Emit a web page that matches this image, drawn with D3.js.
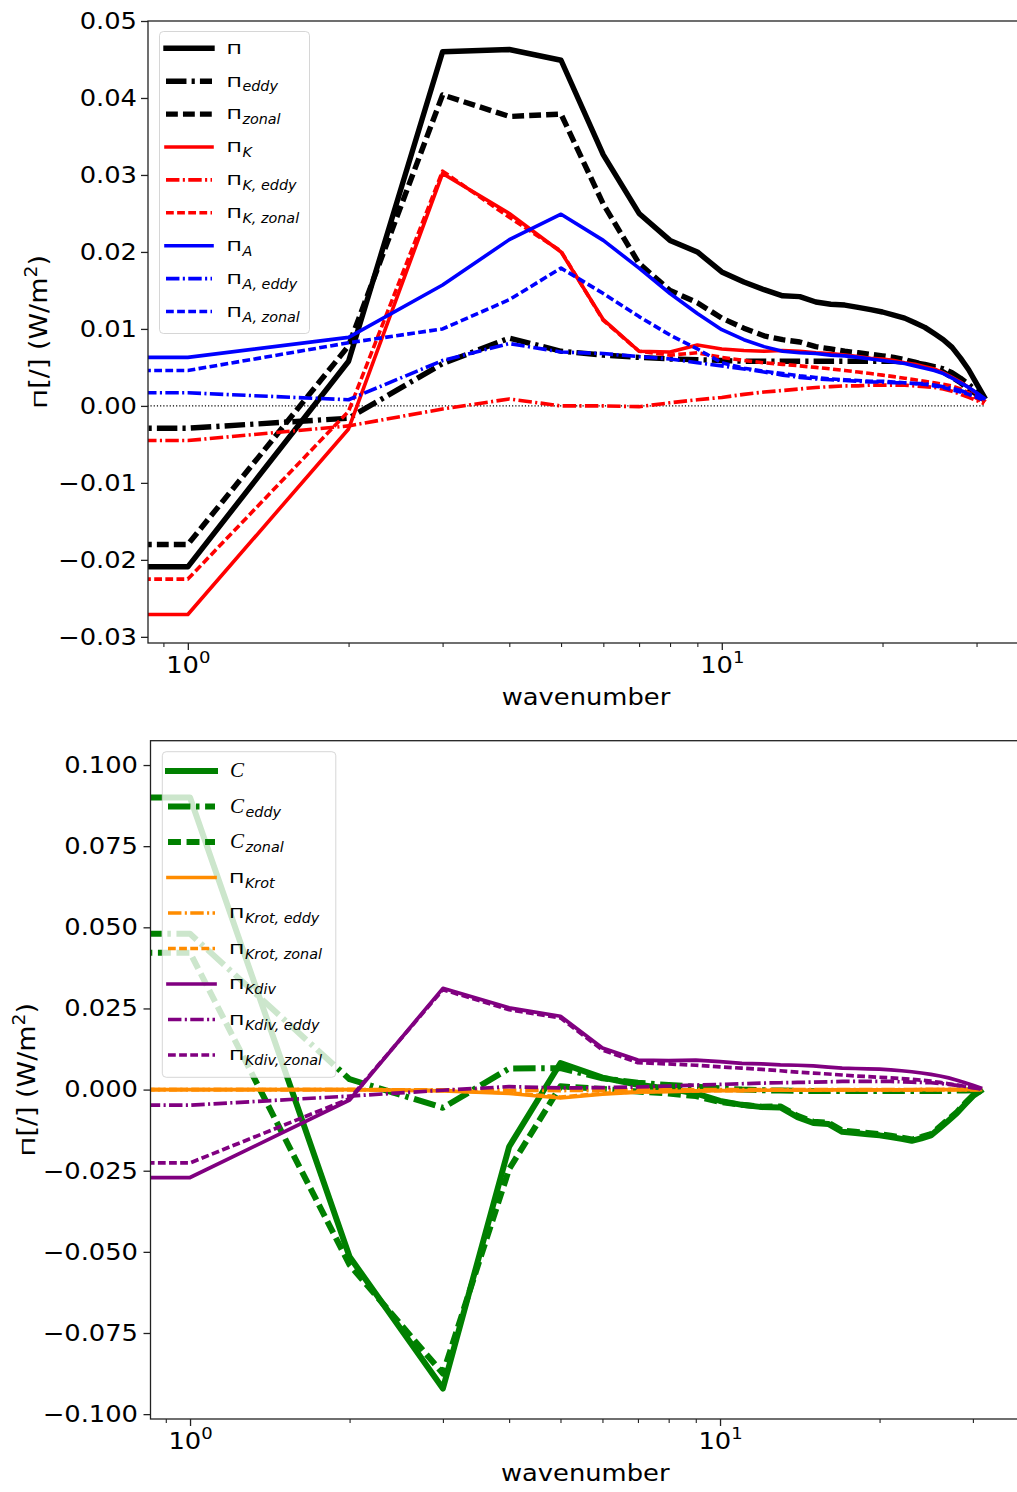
<!DOCTYPE html>
<html>
<head>
<meta charset="utf-8">
<script src="https://cdn.jsdelivr.net/npm/d3@7"></script>
<style>
  html, body { margin: 0; padding: 0; background: #fff; }
  svg { display: block; font-family: "DejaVu Sans", sans-serif; }
</style>
</head>
<body>
<svg id="fig" width="1017" height="1492"></svg>
<script>
// ---------------- data ----------------
const wavenumber = [1, 2, 3, 4, 5, 6, 7, 8, 9, 10, 11, 12, 13, 14, 15, 16,
                    17, 18, 19, 20, 21, 22, 23, 24, 25, 26, 27, 28, 29, 30, 31];

// upper panel: spectral fluxes (W/m^2)
const pi = [-0.0209, 0.0058, 0.0460, 0.0463, 0.0449, 0.0326, 0.0250, 0.0215, 0.0200, 0.0174,
  0.0161, 0.0151, 0.0143, 0.0142, 0.0135, 0.0132, 0.0131, 0.0128, 0.0125, 0.0122,
  0.0118, 0.0114, 0.0108, 0.0102, 0.0094, 0.0086, 0.0076, 0.0062, 0.0047, 0.0029, 0.0012];
const piEddy = [-0.0029, -0.0016, 0.0055, 0.0088, 0.0071, 0.0066, 0.0063, 0.0061, 0.0060, 0.0059,
  0.0058, 0.0058, 0.0058, 0.0058, 0.0058, 0.0058, 0.0058, 0.0058, 0.0058, 0.0058,
  0.0058, 0.0057, 0.0056, 0.0054, 0.0051, 0.0048, 0.0043, 0.0036, 0.0028, 0.0019, 0.0010];
const piZonal = [-0.0180, 0.0078, 0.0404, 0.0376, 0.0379, 0.0262, 0.0185, 0.0150, 0.0134, 0.0114,
  0.0101, 0.0091, 0.0086, 0.0083, 0.0077, 0.0074, 0.0071, 0.0069, 0.0067, 0.0065,
  0.0063, 0.0060, 0.0057, 0.0053, 0.0049, 0.0044, 0.0037, 0.0030, 0.0022, 0.0015, 0.0008];
const piK = [-0.0271, -0.0030, 0.0302, 0.0250, 0.0200, 0.0112, 0.0071, 0.0070, 0.0079, 0.0074,
  0.0072, 0.0071, 0.0072, 0.0071, 0.0069, 0.0068, 0.0066, 0.0064, 0.0062, 0.0061,
  0.0059, 0.0056, 0.0054, 0.0051, 0.0048, 0.0043, 0.0037, 0.0031, 0.0024, 0.0016, 0.0007];
const piKEddy = [-0.0045, -0.0026, -0.0004, 0.0009, 0.0000, 0.0000, -0.0001, 0.0004, 0.0008, 0.0011,
  0.0015, 0.0018, 0.0020, 0.0022, 0.0024, 0.0025, 0.0026, 0.0026, 0.0027, 0.0027,
  0.0027, 0.0027, 0.0026, 0.0025, 0.0024, 0.0022, 0.0019, 0.0015, 0.0011, 0.0007, 0.0003];
const piKZonal = [-0.0225, -0.0007, 0.0305, 0.0245, 0.0201, 0.0111, 0.0071, 0.0066, 0.0069, 0.0063,
  0.0059, 0.0056, 0.0054, 0.0052, 0.0050, 0.0048, 0.0046, 0.0044, 0.0042, 0.0040,
  0.0038, 0.0036, 0.0034, 0.0032, 0.0030, 0.0028, 0.0026, 0.0022, 0.0017, 0.0010, 0.0003];
const piA = [0.0063, 0.0089, 0.0157, 0.0216, 0.0249, 0.0215, 0.0179, 0.0146, 0.0120, 0.0099,
  0.0086, 0.0077, 0.0071, 0.0069, 0.0068, 0.0066, 0.0065, 0.0063, 0.0061, 0.0059,
  0.0057, 0.0055, 0.0052, 0.0049, 0.0046, 0.0042, 0.0036, 0.0030, 0.0024, 0.0017, 0.0010];
const piAEddy = [0.0017, 0.0008, 0.0059, 0.0081, 0.0070, 0.0068, 0.0064, 0.0061, 0.0056, 0.0052,
  0.0048, 0.0044, 0.0040, 0.0037, 0.0035, 0.0034, 0.0033, 0.0032, 0.0031, 0.0031,
  0.0030, 0.0030, 0.0029, 0.0029, 0.0027, 0.0025, 0.0023, 0.0020, 0.0016, 0.0013, 0.0009];
const piAZonal = [0.0046, 0.0082, 0.0100, 0.0138, 0.0179, 0.0146, 0.0116, 0.0092, 0.0074, 0.0056,
  0.0049, 0.0045, 0.0042, 0.0039, 0.0037, 0.0035, 0.0034, 0.0033, 0.0032, 0.0032,
  0.0031, 0.0030, 0.0029, 0.0028, 0.0026, 0.0024, 0.0021, 0.0018, 0.0015, 0.0011, 0.0007];

// lower panel: conversion and rotational / divergent kinetic energy fluxes (W/m^2)
const conv = [0.0900, -0.0515, -0.0921, -0.0176, 0.0082, 0.0037, 0.0015, 0.0003, -0.0012, -0.0035,
  -0.0047, -0.0054, -0.0055, -0.0085, -0.0103, -0.0106, -0.0130, -0.0134, -0.0138, -0.0141,
  -0.0146, -0.0152, -0.0158, -0.0150, -0.0141, -0.0118, -0.0095, -0.0072, -0.0045, -0.0020, -0.0004];
const convEddy = [0.0480, 0.0032, -0.0056, 0.0065, 0.0066, 0.0035, 0.0021, 0.0014, 0.0009, 0.0004,
  0.0000, -0.0002, -0.0003, -0.0004, -0.0004, -0.0004, -0.0004, -0.0004, -0.0004, -0.0004,
  -0.0004, -0.0004, -0.0004, -0.0004, -0.0004, -0.0004, -0.0004, -0.0003, -0.0003, -0.0002, 0.0000];
const convZonal = [0.0422, -0.0540, -0.0875, -0.0245, 0.0010, 0.0002, -0.0006, -0.0012, -0.0020, -0.0038,
  -0.0047, -0.0053, -0.0052, -0.0081, -0.0099, -0.0102, -0.0126, -0.0130, -0.0134, -0.0137,
  -0.0142, -0.0148, -0.0154, -0.0146, -0.0137, -0.0114, -0.0091, -0.0069, -0.0042, -0.0018, -0.0004];
const piKrot = [0.0000, 0.0000, -0.0004, -0.0012, -0.0026, -0.0014, -0.0008, -0.0006, -0.0004, -0.0003,
  -0.0003, -0.0002, -0.0002, -0.0002, -0.0002, -0.0001, -0.0001, -0.0001, -0.0001, -0.0001,
  -0.0001, -0.0001, -0.0001, 0.0000, 0.0000, 0.0000, 0.0000, 0.0000, 0.0000, 0.0000, 0.0000];
const piKrotEddy = [0.0000, 0.0000, -0.0001, -0.0002, -0.0003, -0.0002, -0.0001, -0.0001, 0.0000, 0.0000,
  0.0000, 0.0000, 0.0000, 0.0000, 0.0000, 0.0000, 0.0000, 0.0000, 0.0000, 0.0000,
  0.0000, 0.0000, 0.0000, 0.0000, 0.0000, 0.0000, 0.0000, 0.0000, 0.0000, 0.0000, 0.0000];
const piKrotZonal = [0.0000, 0.0000, -0.0003, -0.0010, -0.0023, -0.0012, -0.0007, -0.0005, -0.0004, -0.0003,
  -0.0003, -0.0002, -0.0002, -0.0002, -0.0002, -0.0001, -0.0001, -0.0001, -0.0001, -0.0001,
  -0.0001, -0.0001, -0.0001, 0.0000, 0.0000, 0.0000, 0.0000, 0.0000, 0.0000, 0.0000, 0.0000];
const piKdiv = [-0.0271, -0.0032, 0.0312, 0.0252, 0.0226, 0.0128, 0.0091, 0.0089, 0.0091, 0.0086,
  0.0081, 0.0079, 0.0076, 0.0075, 0.0073, 0.0069, 0.0066, 0.0065, 0.0064, 0.0063,
  0.0061, 0.0058, 0.0055, 0.0051, 0.0047, 0.0042, 0.0036, 0.0029, 0.0021, 0.0013, 0.0005];
const piKdivEddy = [-0.0048, -0.0020, -0.0002, 0.0009, 0.0005, 0.0006, 0.0008, 0.0011, 0.0014, 0.0016,
  0.0018, 0.0020, 0.0021, 0.0022, 0.0023, 0.0024, 0.0025, 0.0025, 0.0025, 0.0025,
  0.0025, 0.0024, 0.0023, 0.0022, 0.0021, 0.0019, 0.0016, 0.0013, 0.0010, 0.0006, 0.0002];
const piKdivZonal = [-0.0226, -0.0028, 0.0308, 0.0246, 0.0221, 0.0122, 0.0083, 0.0079, 0.0075, 0.0070,
  0.0066, 0.0062, 0.0058, 0.0054, 0.0051, 0.0048, 0.0045, 0.0042, 0.0040, 0.0038,
  0.0036, 0.0034, 0.0032, 0.0029, 0.0026, 0.0022, 0.0018, 0.0014, 0.0010, 0.0006, 0.0003];

// tick values
const topYTicks = [-0.03, -0.02, -0.01, 0.00, 0.01, 0.02, 0.03, 0.04, 0.05];
const bottomYTicks = [-0.100, -0.075, -0.050, -0.025, 0.000, 0.025, 0.050, 0.075, 0.100];
const xMajorTicks = [1, 10];
const xMinorTicks = [0.9, 2, 3, 4, 5, 6, 7, 8, 9, 20, 30];

// ---------------- styling ----------------
const TICK_FS = 23;        // tick labels and x title
const TICK_SX = 1.12;      // horizontal widening of tick labels / x title
const YLAB_FS = 24.5;      // y title
const YLAB_SX = 1.1;
const LEG_FS = 20.5;       // legend symbols
const LEG_SUB = LEG_FS * 0.7;
const PI_SQUASH = 0.72;    // vertical squash of the capital Pi glyph
const svg = d3.select('#fig');

function widen(sel, sx) {
  sel.each(function () {
    const L = this.getComputedTextLength();
    this.setAttribute('textLength', (L * sx).toFixed(2));
    this.setAttribute('lengthAdjust', 'spacingAndGlyphs');
  });
}

function dashArray(type, u) {
  if (type === 'dashed') return [3.7 * u, 1.6 * u].join(',');
  if (type === 'dashdot') return [6.4 * u, 1.6 * u, 1 * u, 1.6 * u].join(',');
  return null;
}

function styleLine(sel, s) {
  sel.attr('fill', 'none')
    .attr('stroke', s.color)
    .attr('stroke-width', s.width)
    .attr('stroke-linejoin', 'round')
    .attr('stroke-linecap', s.dash === 'solid' ? 'square' : 'butt')
    .attr('stroke-dasharray', dashArray(s.dash, s.unit));
}

// symbol (Π or calligraphic C) followed by an italic subscript
function mathLabel(parent, x, baseline, sym, sub) {
  const g = parent.append('g').attr('transform', `translate(${x},${baseline})`);
  let w;
  if (sym === 'Π') {
    const t = g.append('text').attr('font-size', LEG_FS)
      .attr('transform', `scale(1,${PI_SQUASH})`).attr('fill', '#000').text('Π');
    w = t.node().getComputedTextLength();
  } else {
    const t = g.append('text').attr('x', 1).attr('y', 1).attr('font-size', 21)
      .attr('font-family', '"Liberation Serif", "DejaVu Serif", serif').attr('font-style', 'italic')
      .attr('fill', '#000').text('C');
    w = t.node().getComputedTextLength() + 2;
  }
  if (sub) {
    g.append('text').attr('x', w + 0.5).attr('y', LEG_FS * 0.23)
      .attr('font-size', LEG_SUB).attr('font-style', 'italic').attr('fill', '#000').text(sub);
  }
  return g;
}

const X_DOMAIN = [Math.pow(10, -0.0746), Math.pow(10, 1.566)];

function drawPanel(cfg) {
  const x = d3.scaleLog().domain(X_DOMAIN).range([cfg.left, cfg.right]);
  const y = d3.scaleLinear().domain(cfg.yDomain).range([cfg.bottom, cfg.top]);
  const root = svg.append('g');

  const clipId = cfg.id + '-clip';
  root.append('clipPath').attr('id', clipId).append('rect')
    .attr('x', cfg.left).attr('y', cfg.top)
    .attr('width', cfg.right - cfg.left).attr('height', cfg.bottom - cfg.top);
  const plot = root.append('g').attr('clip-path', `url(#${clipId})`);

  const line = d3.line().x(d => x(d[0])).y(d => y(d[1]));
  // the k = 0 entry sits at -inf on the log axis: the curve enters flat from the left edge
  const farLeft = X_DOMAIN[0] * 0.5;

  if (cfg.zeroLine) {
    plot.append('path')
      .attr('d', line([[farLeft, 0], [wavenumber[wavenumber.length - 1], 0]]))
      .attr('fill', 'none').attr('stroke', '#000').attr('stroke-width', 1.2)
      .attr('stroke-dasharray', '1.2,2');
  }

  cfg.series.forEach(s => {
    const pts = [[farLeft, s.values[0]]].concat(wavenumber.map((k, i) => [k, s.values[i]]));
    plot.append('path').attr('d', line(pts)).call(styleLine, s);
  });

  // legend
  const L = cfg.legend;
  const lg = root.append('g');
  lg.append('rect')
    .attr('x', L.x).attr('y', L.y).attr('width', L.w).attr('height', L.h)
    .attr('rx', 4).attr('ry', 4)
    .attr('fill', '#fff').attr('fill-opacity', 0.8)
    .attr('stroke', '#cccccc').attr('stroke-opacity', 0.8).attr('stroke-width', 1);
  cfg.series.forEach((s, i) => {
    const ry = L.row0 + i * L.step;
    lg.append('path').attr('d', `M${L.hx0},${ry}H${L.hx1}`).call(styleLine, s);
    mathLabel(lg, L.tx, ry + L.base, s.sym, s.sub);
  });

  // frame
  root.append('rect')
    .attr('x', cfg.left).attr('y', cfg.top)
    .attr('width', cfg.right - cfg.left).attr('height', cfg.bottom - cfg.top)
    .attr('fill', 'none').attr('stroke', '#222').attr('stroke-width', 1.3);

  // y axis
  const yAxis = root.append('g').attr('transform', `translate(${cfg.left},0)`)
    .call(d3.axisLeft(y).tickValues(cfg.yTicks).tickFormat(cfg.yFormat)
      .tickSize(7).tickPadding(cfg.yPad).tickSizeOuter(0));
  yAxis.select('.domain').remove();
  yAxis.selectAll('.tick line').attr('stroke', '#222').attr('stroke-width', 1.3);
  yAxis.selectAll('.tick text').attr('font-size', TICK_FS).attr('fill', '#000')
    .attr('font-family', '"DejaVu Sans", sans-serif').call(widen, TICK_SX);

  // x axis, major and minor ticks
  const xAxis = root.append('g').attr('transform', `translate(0,${cfg.bottom})`)
    .call(d3.axisBottom(x).tickValues(xMajorTicks).tickSize(7).tickPadding(8).tickSizeOuter(0));
  xAxis.select('.domain').remove();
  xAxis.selectAll('.tick line').attr('stroke', '#222').attr('stroke-width', 1.3);
  xAxis.selectAll('.tick text').each(function (d) {
    const t = d3.select(this).text('').attr('font-size', TICK_FS).attr('fill', '#000')
      .attr('font-family', '"DejaVu Sans", sans-serif').attr('y', 30).attr('dy', 0);
    t.append('tspan').text('10');
    t.append('tspan').attr('font-size', TICK_FS * 0.7).attr('dy', -10.5)
      .text(String(Math.round(Math.log10(d))));
  }).call(widen, TICK_SX);
  const xMinor = root.append('g').attr('transform', `translate(0,${cfg.bottom})`)
    .call(d3.axisBottom(x).tickValues(xMinorTicks).tickSize(4).tickFormat(() => '').tickSizeOuter(0));
  xMinor.select('.domain').remove();
  xMinor.selectAll('.tick line').attr('stroke', '#222').attr('stroke-width', 1.1);

  // axis titles
  root.append('text')
    .attr('x', (cfg.left + cfg.right) / 2).attr('y', cfg.bottom + 62)
    .attr('text-anchor', 'middle').attr('font-size', TICK_FS).attr('fill', '#000')
    .text('wavenumber').call(widen, TICK_SX);

  const yl = root.append('g');
  const ylInner = yl.append('g');
  const piT = ylInner.append('text').attr('font-size', YLAB_FS)
    .attr('transform', `scale(1,${PI_SQUASH})`).attr('fill', '#000').text('Π');
  const piW = piT.node().getComputedTextLength();
  const rest = ylInner.append('text').attr('x', piW).attr('font-size', YLAB_FS).attr('fill', '#000');
  rest.append('tspan').text('[/] (W/m');
  rest.append('tspan').attr('font-size', YLAB_FS * 0.7).attr('dy', -10).text('2');
  rest.append('tspan').attr('dy', 10).text(')');
  const total = piW + rest.node().getComputedTextLength();
  yl.attr('transform',
    `translate(${cfg.ylabelX},${(cfg.top + cfg.bottom) / 2}) rotate(-90) scale(${YLAB_SX},1) translate(${-total / 2},0)`);
}

drawPanel({
  id: 'upper',
  left: 148, right: 1024, top: 21, bottom: 643,
  yDomain: [-0.0308, 0.0500],
  yTicks: topYTicks, yFormat: d3.format('.2f'), yPad: 4,
  ylabelX: 47,
  zeroLine: true,
  legend: { x: 159.5, y: 31.5, w: 150, h: 302, row0: 48.3, step: 32.9,
            hx0: 166, hx1: 212, tx: 226.5, base: 5.3 },
  series: [
    { values: pi,       color: '#000000', width: 5.4, dash: 'solid',   unit: 3.2, sym: 'Π', sub: '' },
    { values: piEddy,   color: '#000000', width: 5.4, dash: 'dashdot', unit: 3.2, sym: 'Π', sub: 'eddy' },
    { values: piZonal,  color: '#000000', width: 5.4, dash: 'dashed',  unit: 3.2, sym: 'Π', sub: 'zonal' },
    { values: piK,      color: '#ff0000', width: 3.6, dash: 'solid',   unit: 2.1, sym: 'Π', sub: 'K' },
    { values: piKEddy,  color: '#ff0000', width: 3.6, dash: 'dashdot', unit: 2.1, sym: 'Π', sub: 'K, eddy' },
    { values: piKZonal, color: '#ff0000', width: 3.6, dash: 'dashed',  unit: 2.1, sym: 'Π', sub: 'K, zonal' },
    { values: piA,      color: '#0000ff', width: 3.6, dash: 'solid',   unit: 2.1, sym: 'Π', sub: 'A' },
    { values: piAEddy,  color: '#0000ff', width: 3.6, dash: 'dashdot', unit: 2.1, sym: 'Π', sub: 'A, eddy' },
    { values: piAZonal, color: '#0000ff', width: 3.6, dash: 'dashed',  unit: 2.1, sym: 'Π', sub: 'A, zonal' }
  ]
});

drawPanel({
  id: 'lower',
  left: 150.5, right: 1020, top: 740.7, bottom: 1419,
  yDomain: [-0.1015, 0.1075],
  yTicks: bottomYTicks, yFormat: d3.format('.3f'), yPad: 5.5,
  ylabelX: 35,
  zeroLine: false,
  legend: { x: 162.3, y: 751.7, w: 173.5, h: 325.6, row0: 771, step: 35.5,
            hx0: 168, hx1: 215, tx: 229, base: 5.3 },
  series: [
    { values: conv,         color: '#008000', width: 6.0, dash: 'solid',   unit: 3.5, sym: 'C', sub: '' },
    { values: convEddy,     color: '#008000', width: 6.0, dash: 'dashdot', unit: 3.5, sym: 'C', sub: 'eddy' },
    { values: convZonal,    color: '#008000', width: 6.0, dash: 'dashed',  unit: 3.5, sym: 'C', sub: 'zonal' },
    { values: piKrot,       color: '#ff8c00', width: 3.7, dash: 'solid',   unit: 2.1, sym: 'Π', sub: 'Krot' },
    { values: piKrotEddy,   color: '#ff8c00', width: 3.7, dash: 'dashdot', unit: 2.1, sym: 'Π', sub: 'Krot, eddy' },
    { values: piKrotZonal,  color: '#ff8c00', width: 3.7, dash: 'dashed',  unit: 2.1, sym: 'Π', sub: 'Krot, zonal' },
    { values: piKdiv,       color: '#800080', width: 3.7, dash: 'solid',   unit: 2.1, sym: 'Π', sub: 'Kdiv' },
    { values: piKdivEddy,   color: '#800080', width: 3.7, dash: 'dashdot', unit: 2.1, sym: 'Π', sub: 'Kdiv, eddy' },
    { values: piKdivZonal,  color: '#800080', width: 3.7, dash: 'dashed',  unit: 2.1, sym: 'Π', sub: 'Kdiv, zonal' }
  ]
});
</script>
</body>
</html>
